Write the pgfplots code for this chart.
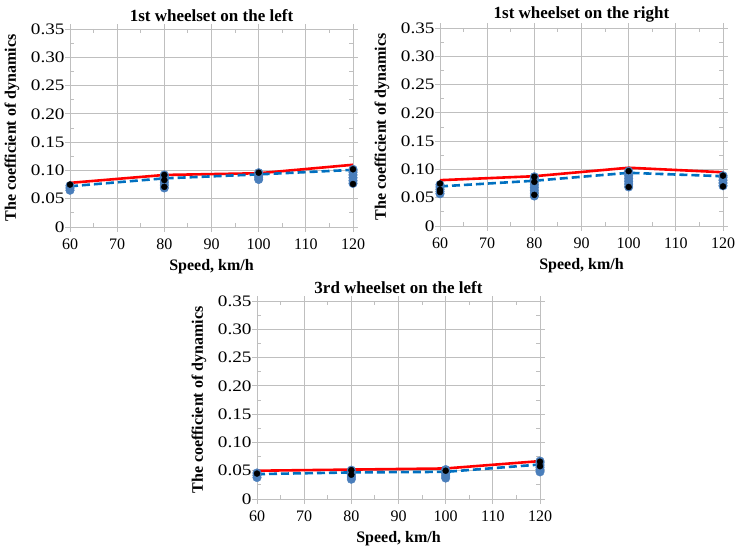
\documentclass[border=0pt]{standalone}
\usepackage{fontspec}
\setmainfont{Liberation Serif}
\usepackage{pgfplots}
\pgfplotsset{compat=1.18}
\definecolor{cred}{RGB}{255,0,0}
\definecolor{cdash}{RGB}{0,112,192}
\definecolor{cmark}{RGB}{74,126,187}
\definecolor{cgrid}{RGB}{191,191,191}

\pgfplotsset{
  wheelset/.style={
    scale only axis,
    width=283pt,
    height=198pt,
    xmin=60, xmax=120,
    ymin=0, ymax=0.35,
    xtick={60,70,...,120},
    ytick={0,0.05,...,0.35},
    yticklabels={0,0.05,0.10,0.15,0.20,0.25,0.30,0.35},
    minor x tick num=1,
    minor y tick num=1,
    tick align=inside,
    major tick length=-5pt,
    minor tick length=4pt,
    grid=major,
    grid style={draw=cgrid, line width=0.9pt},
    axis line style={draw=cgrid, line width=0.9pt},
    tick style={draw=cgrid, line width=0.9pt},
    clip=false,
    /pgf/number format/assume math mode=true,
    tick label style={font=\fontsize{16}{16}\selectfont},
    xticklabel style={yshift=-8pt},
    yticklabel style={xscale=1.2, xshift=-1pt},
    every axis title shift=0pt,
    title style={font=\bfseries\fontsize{17}{17}\selectfont, at={(axis description cs:0.5,1.066)}, anchor=center},
    xlabel style={font=\bfseries\fontsize{16}{16}\selectfont, at={(axis description cs:0.5,-0.2)}, anchor=center},
    ylabel style={font=\bfseries\fontsize{16}{16}\selectfont, at={(axis description cs:-0.205,0.5)}, anchor=center, rotate=0},
    xlabel={Speed, km/h},
    ylabel={The coefficient of dynamics},
  },
  redline/.style={draw=cred, line width=2.6pt, mark=none},
  dashline/.style={draw=cdash, line width=2.6pt, dash pattern=on 8pt off 4pt, mark=none},
  bluemk/.style={only marks, mark=*, mark size=4.3pt, mark options={fill=cmark, draw=cmark}},
  blackmk/.style={only marks, mark=*, mark size=3pt, mark options={fill=black, draw=black}},
}

\begin{document}
\begin{tikzpicture}
  \useasboundingbox (0pt,0pt) rectangle (736pt,549pt);

  % top left
  \begin{axis}[wheelset, at={(70pt,322pt)}, anchor=south west, title={1st wheelset on the left}]
    \addplot[redline] coordinates {(60,0.078) (80,0.092) (100,0.095) (120,0.110)};
    \addplot[dashline] coordinates {(60,0.072) (80,0.086) (100,0.093) (120,0.101)};
    \addplot[bluemk] coordinates {
      (60,0.065) (60,0.069) (60,0.073)
      (80,0.069) (80,0.074) (80,0.079) (80,0.084) (80,0.089) (80,0.092)
      (100,0.084) (100,0.088) (100,0.092) (100,0.096)
      (120,0.077) (120,0.082) (120,0.087) (120,0.092) (120,0.097) (120,0.102)};
    \addplot[blackmk] coordinates {
      (60,0.075) (80,0.092) (80,0.083) (80,0.071) (100,0.096) (120,0.102) (120,0.076)};
  \end{axis}

  % top right
  \begin{axis}[wheelset, at={(440pt,323pt)}, anchor=south west, title={1st wheelset on the right}]
    \addplot[redline] coordinates {(60,0.081) (80,0.088) (100,0.103) (120,0.095)};
    \addplot[dashline] coordinates {(60,0.070) (80,0.080) (100,0.094) (120,0.088)};
    \addplot[bluemk] coordinates {
      (60,0.057) (60,0.061) (60,0.065) (60,0.069) (60,0.073)
      (80,0.053) (80,0.058) (80,0.063) (80,0.068) (80,0.073) (80,0.078) (80,0.083) (80,0.087)
      (100,0.069) (100,0.074) (100,0.079) (100,0.084) (100,0.089) (100,0.094) (100,0.097)
      (120,0.071) (120,0.076) (120,0.081) (120,0.086) (120,0.089)};
    \addplot[blackmk] coordinates {
      (60,0.075) (60,0.064) (60,0.060) (80,0.087) (80,0.078) (80,0.055)
      (100,0.097) (100,0.069) (120,0.089) (120,0.070)};
  \end{axis}

  % bottom
  \begin{axis}[wheelset, at={(257pt,50pt)}, anchor=south west, title={3rd wheelset on the left}]
    \addplot[redline] coordinates {(60,0.050) (80,0.052) (100,0.054) (120,0.067)};
    \addplot[dashline] coordinates {(60,0.044) (80,0.047) (100,0.048) (120,0.061)};
    \addplot[bluemk] coordinates {
      (60,0.038) (60,0.042) (60,0.046)
      (80,0.035) (80,0.039) (80,0.043) (80,0.047) (80,0.051)
      (100,0.037) (100,0.041) (100,0.045) (100,0.049) (100,0.052)
      (120,0.048) (120,0.052) (120,0.056) (120,0.060) (120,0.064) (120,0.067)};
    \addplot[blackmk] coordinates {
      (60,0.045) (80,0.051) (80,0.043) (100,0.050) (120,0.066) (120,0.058)};
  \end{axis}
\end{tikzpicture}
\end{document}
